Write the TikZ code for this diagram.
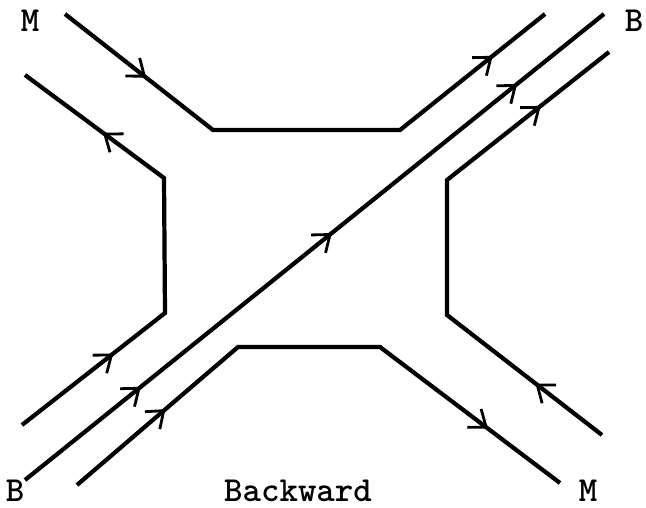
\documentclass[tikz,border=0pt]{standalone}
\usetikzlibrary{arrows.meta,decorations.markings}

\tikzset{
  leg/.style={line width=2.4pt, line join=miter},
  flowmark/.style={postaction={decorate, decoration={markings,
      mark=at position #1 with {\arrow[line width=1.6pt]{Straight Barb[length=3mm, width=4.6mm]}}}}},
  lbl/.style={font=\ttfamily\bfseries\fontsize{20}{22}\selectfont, inner sep=0pt}
}

\begin{document}
\begin{tikzpicture}[x=0.2mm, y=-0.2mm]
\useasboundingbox (0,0) rectangle (646,507);
% upper M line
\coordinate (A1) at (65,14);
\coordinate (B1) at (213,130);
\coordinate (C1) at (400,130);
\coordinate (D1) at (545,14);
% left hexagon side
\coordinate (A2) at (22,425);
\coordinate (B2) at (165,313);
\coordinate (C2) at (164,178);
\coordinate (D2) at (25,75);
% diagonal B line
\coordinate (A3) at (25,480);
\coordinate (B3) at (604,14);
% lower M line
\coordinate (A4) at (77,485);
\coordinate (B4) at (238,347);
\coordinate (C4) at (380,347);
\coordinate (D4) at (560,483);
% right hexagon side
\coordinate (A5) at (602,435);
\coordinate (B5) at (447,315);
\coordinate (C5) at (447,180);
\coordinate (D5) at (609,52);

\draw[leg] (A1) -- (B1) -- (C1) -- (D1);
\draw[leg] (A2) -- (B2) -- (C2) -- (D2);
\draw[leg] (A3) -- (B3);
\draw[leg] (A4) -- (B4) -- (C4) -- (D4);
\draw[leg] (A5) -- (B5) -- (C5) -- (D5);

\path[flowmark=0.55] (A1) -- (B1);
\path[flowmark=0.64] (C1) -- (D1);
\path[flowmark=0.64] (A2) -- (B2);
\path[flowmark=0.44] (C2) -- (D2);
\foreach \t in {0.2,0.53,0.85}{
    \path[flowmark=\t] (A3) -- (B3);
}
\path[flowmark=0.55] (A4) -- (B4);
\path[flowmark=0.60] (C4) -- (D4);
\path[flowmark=0.43] (A5) -- (B5);
\path[flowmark=0.58] (C5) -- (D5);

\node[lbl] (mtop) at (30,21) {M};
\node[lbl] (btop) at (634,21) {B};
\node[lbl] (bbot) at (15,491) {B};
\node[lbl] (cap) at (298,491) {Backward};
\node[lbl] (mbot) at (588,491) {M};
\end{tikzpicture}
\end{document}
